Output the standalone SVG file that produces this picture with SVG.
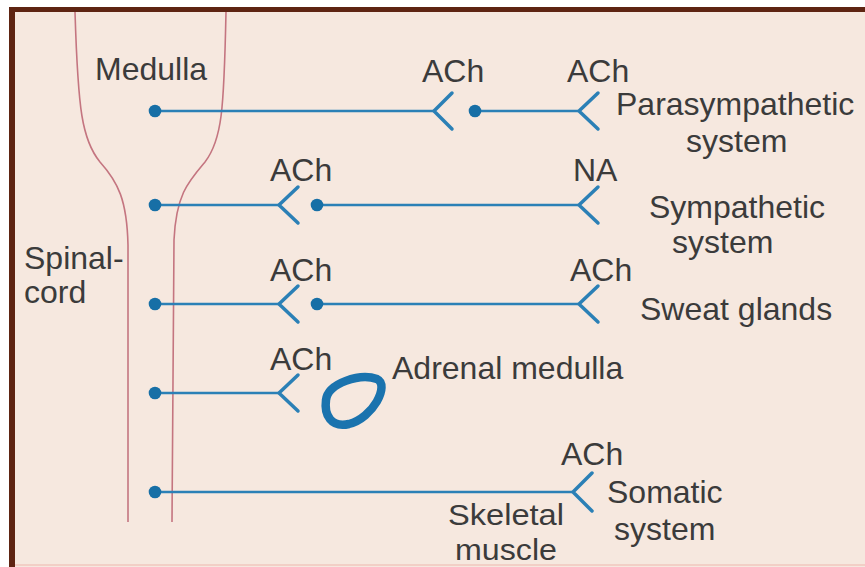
<svg xmlns="http://www.w3.org/2000/svg" width="865" height="567" viewBox="0 0 865 567">
<style>
.t{font-family:"Liberation Sans",Arial,sans-serif;font-size:32px;fill:#3b3b3b}
.s{font-size:30px}
.ax{stroke:#2b80b6;stroke-width:2.6;fill:none}
.ch{stroke:#2b80b6;stroke-width:3.5;fill:none;stroke-linecap:round;stroke-linejoin:round}
.dot{fill:#176fa6}
.cord{stroke:#c47580;stroke-width:1.6;fill:none}
</style>
<rect x="0" y="0" width="865" height="567" fill="#ffffff"/>
<rect x="9" y="7" width="856" height="560" fill="#f6e8df"/>
<rect x="9" y="7" width="856" height="5" fill="#5e2412"/>
<rect x="9" y="7" width="6" height="560" fill="#5e2412"/>
<line x1="15" y1="565" x2="865" y2="565" stroke="#f2cfc6" stroke-width="2"/>

<g id="spinal-cord">
<path class="cord" d="M75,12 C78,110 82,140 100,162 C118,182 127,200 128,245 L128,522"/>
<path class="cord" d="M226,12 C224,110 222,140 205,162 C188,182 176,195 174,240 L172,522"/>
<text class="t" x="95" y="80">Medulla</text>
<text class="t" x="24" y="269">Spinal-</text>
<text class="t" x="24" y="303">cord</text>
</g>

<g id="connectors">
<line class="ax" x1="155" y1="111" x2="434" y2="111"/>
<line class="ax" x1="475" y1="111" x2="578" y2="111"/>
<line class="ax" x1="155" y1="205" x2="279" y2="205"/>
<line class="ax" x1="317" y1="205" x2="578" y2="205"/>
<line class="ax" x1="155" y1="304" x2="279" y2="304"/>
<line class="ax" x1="317" y1="304" x2="578" y2="304"/>
<line class="ax" x1="155" y1="393" x2="279" y2="393"/>
<line class="ax" x1="155" y1="492" x2="572" y2="492"/>
</g>

<g id="parasympathetic">
<circle class="dot" cx="155" cy="111" r="6.3"/>
<path class="ch" d="M452,93 L434,111 L452,129"/>
<circle class="dot" cx="475" cy="111" r="6.3"/>
<path class="ch" d="M598,93 L579,111 L598,129"/>
<text class="t" x="422" y="82">ACh</text>
<text class="t" x="567" y="82">ACh</text>
<text class="t" x="616" y="115">Parasympathetic</text>
<text class="t" x="686" y="152">system</text>
</g>

<g id="sympathetic">
<circle class="dot" cx="155" cy="205" r="6.3"/>
<path class="ch" d="M298,187 L279,205 L298,223"/>
<circle class="dot" cx="317" cy="205" r="6.3"/>
<path class="ch" d="M598,187 L579,205 L598,223"/>
<text class="t" x="270" y="181">ACh</text>
<text class="t" x="573" y="181">NA</text>
<text class="t" x="649" y="218">Sympathetic</text>
<text class="t" x="672" y="253">system</text>
</g>

<g id="sweat-glands">
<circle class="dot" cx="155" cy="304" r="6.3"/>
<path class="ch" d="M298,286 L279,304 L298,322"/>
<circle class="dot" cx="317" cy="304" r="6.3"/>
<path class="ch" d="M598,286 L579,304 L598,322"/>
<text class="t" x="270" y="281">ACh</text>
<text class="t" x="570" y="281">ACh</text>
<text class="t" x="640" y="320">Sweat glands</text>
</g>

<g id="adrenal-medulla">
<circle class="dot" cx="155" cy="393" r="6.3"/>
<path class="ch" d="M298,375 L279,393 L298,411"/>
<path d="M326,400 C328,383 360,373 377,379 C390,385 373,418 349,424 C331,428 324,415 326,400 Z" fill="none" stroke="#1a73ae" stroke-width="8.5"/>
<text class="t" x="270" y="370">ACh</text>
<text class="t" x="392" y="379">Adrenal medulla</text>
</g>

<g id="somatic">
<circle class="dot" cx="155" cy="492" r="6.3"/>
<path class="ch" d="M592,473 L573,492 L592,511"/>
<text class="t" x="561" y="465">ACh</text>
<text class="t" x="607" y="503">Somatic</text>
<text class="t" x="614" y="540">system</text>
<text class="t s" x="448" y="525" textLength="116" lengthAdjust="spacingAndGlyphs">Skeletal</text>
<text class="t s" x="455" y="560" textLength="102" lengthAdjust="spacingAndGlyphs">muscle</text>
</g>
</svg>
